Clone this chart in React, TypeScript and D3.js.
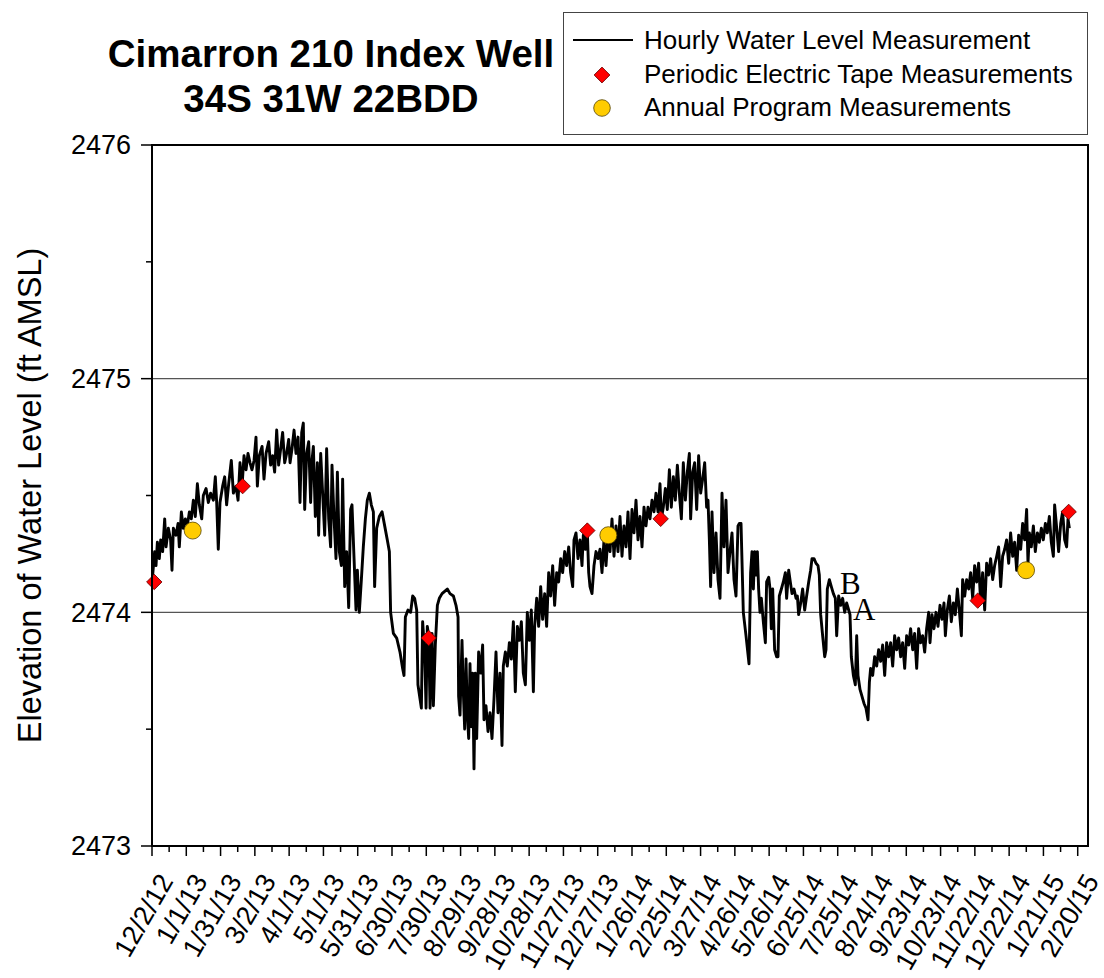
import React from 'react';
import * as d3 from 'd3';

// ---------- data ----------
const START_DATE = '12/2/12';
const END_DATE = '3/1/15';

const xTickLabels = [
  '12/2/12', '1/1/13', '1/31/13', '3/2/13', '4/1/13', '5/1/13', '5/31/13', '6/30/13',
  '7/30/13', '8/29/13', '9/28/13', '10/28/13', '11/27/13', '12/27/13', '1/26/14',
  '2/25/14', '3/27/14', '4/26/14', '5/26/14', '6/25/14', '7/25/14', '8/24/14',
  '9/23/14', '10/23/14', '11/22/14', '12/22/14', '1/21/15', '2/20/15',
];
const yTicks = [2473, 2474, 2475, 2476];
const yMinorTicks = [2473.5, 2474.5, 2475.5];
const gridLevels = [2474, 2475];

// hourly water level: [days since 12/2/12, ft AMSL]
const hourly: [number, number][] = [
  [0.6, 2474.16], [2.3, 2474.26], [3.5, 2474.20], [4.7, 2474.30], [6.4, 2474.23], [7.6, 2474.31],
  [9.3, 2474.26], [11.1, 2474.40], [12.3, 2474.28], [14.3, 2474.36], [16.3, 2474.31], [17.5, 2474.18],
  [18.7, 2474.36], [21.0, 2474.33], [22.8, 2474.38], [23.9, 2474.28], [25.7, 2474.43], [27.4, 2474.36],
  [29.2, 2474.40], [30.9, 2474.37], [32.7, 2474.43], [34.4, 2474.40], [36.2, 2474.48], [37.9, 2474.41],
  [39.7, 2474.55], [41.4, 2474.46], [43.5, 2474.40], [44.9, 2474.50], [47.3, 2474.53], [49.3, 2474.47],
  [51.3, 2474.51], [53.7, 2474.48], [55.4, 2474.58], [56.6, 2474.47], [58.0, 2474.27], [59.5, 2474.47],
  [61.8, 2474.54], [63.6, 2474.58], [65.3, 2474.46], [67.1, 2474.55], [69.4, 2474.65], [71.2, 2474.51],
  [73.5, 2474.54], [75.3, 2474.48], [77.0, 2474.64], [78.8, 2474.54], [80.5, 2474.67], [82.3, 2474.61],
  [84.0, 2474.68], [85.8, 2474.64], [87.5, 2474.61], [89.3, 2474.65], [91.0, 2474.75], [92.2, 2474.54],
  [93.9, 2474.67], [96.3, 2474.71], [98.0, 2474.57], [99.8, 2474.68], [102.1, 2474.73], [103.8, 2474.63],
  [105.6, 2474.67], [107.3, 2474.60], [109.1, 2474.78], [110.8, 2474.63], [112.6, 2474.70], [114.3, 2474.77],
  [116.1, 2474.64], [117.8, 2474.68], [119.6, 2474.74], [120.8, 2474.64], [122.5, 2474.70], [124.3, 2474.78],
  [126.0, 2474.68], [127.8, 2474.75], [129.5, 2474.47], [131.0, 2474.77], [132.4, 2474.81], [133.6, 2474.44],
  [135.3, 2474.68], [137.1, 2474.73], [138.8, 2474.47], [140.0, 2474.65], [141.2, 2474.71], [142.9, 2474.41],
  [144.7, 2474.64], [145.8, 2474.33], [147.6, 2474.68], [149.3, 2474.51], [151.1, 2474.33], [152.8, 2474.70],
  [154.6, 2474.40], [156.3, 2474.28], [157.5, 2474.63], [159.3, 2474.40], [161.0, 2474.23], [162.2, 2474.60],
  [163.9, 2474.26], [165.7, 2474.20], [166.8, 2474.57], [168.6, 2474.11], [170.3, 2474.26], [172.1, 2474.02],
  [173.8, 2474.44], [175.0, 2474.46], [176.8, 2474.23], [178.5, 2474.01], [179.7, 2474.18], [181.4, 2474.00],
  [183.2, 2474.14], [184.9, 2474.28], [186.7, 2474.40], [188.4, 2474.48], [190.2, 2474.51], [191.9, 2474.46],
  [193.7, 2474.43], [194.8, 2474.11], [196.6, 2474.36], [198.9, 2474.41], [201.3, 2474.43], [203.6, 2474.37],
  [205.9, 2474.31], [207.7, 2474.26], [208.8, 2474.00], [211.2, 2473.91], [214.1, 2473.89], [217.0, 2473.83],
  [219.3, 2473.76], [220.5, 2473.73], [221.7, 2473.98], [224.0, 2474.01], [226.3, 2474.00], [228.1, 2474.07],
  [229.8, 2474.06], [231.6, 2474.01], [232.7, 2473.69], [234.5, 2473.63], [235.7, 2473.59], [236.8, 2473.96],
  [238.6, 2473.83], [239.8, 2473.59], [240.9, 2473.94], [242.1, 2473.90], [243.3, 2473.59], [245.0, 2473.91],
  [246.2, 2473.60], [247.9, 2473.86], [249.7, 2474.03], [251.4, 2474.06], [253.8, 2474.08], [256.1, 2474.09],
  [258.4, 2474.10], [260.75, 2474.08], [263.7, 2474.07], [266.0, 2474.03], [267.8, 2473.98], [268.3, 2473.64],
  [269.5, 2473.56], [271.25, 2473.88], [272.4, 2473.66], [273.6, 2473.50], [274.75, 2473.80], [275.9, 2473.57],
  [277.1, 2473.46], [278.25, 2473.78], [279.4, 2473.51], [280.6, 2473.74], [281.75, 2473.33], [282.9, 2473.74],
  [284.1, 2473.46], [285.8, 2473.83], [287.6, 2473.74], [289.3, 2473.86], [290.5, 2473.54], [292.25, 2473.60],
  [294.0, 2473.49], [295.75, 2473.57], [297.5, 2473.46], [299.25, 2473.63], [301.0, 2473.83], [302.75, 2473.57],
  [304.5, 2473.74], [306.25, 2473.43], [307.4, 2473.77], [309.2, 2473.83], [310.9, 2473.77], [312.7, 2473.87],
  [314.4, 2473.80], [316.2, 2473.96], [317.9, 2473.66], [319.7, 2473.94], [321.4, 2473.88], [323.2, 2473.96],
  [324.9, 2473.74], [326.7, 2473.69], [328.4, 2474.00], [330.2, 2473.88], [331.9, 2474.01], [333.7, 2473.66],
  [334.8, 2473.94], [336.6, 2474.06], [338.3, 2473.94], [340.1, 2474.11], [341.8, 2473.97], [343.6, 2474.08],
  [345.3, 2473.94], [347.1, 2474.17], [348.8, 2474.07], [350.6, 2474.20], [352.3, 2474.03], [354.1, 2474.17],
  [355.8, 2474.13], [357.6, 2474.23], [359.3, 2474.17], [361.1, 2474.26], [362.8, 2474.20], [364.6, 2474.28],
  [366.3, 2474.17], [368.1, 2474.11], [369.25, 2474.31], [371.0, 2474.34], [372.75, 2474.23], [374.5, 2474.31],
  [376.25, 2474.20], [377.4, 2474.33], [379.2, 2474.27], [380.9, 2474.35], [382.1, 2474.17], [383.25, 2474.11],
  [385.0, 2474.08], [386.75, 2474.20], [388.5, 2474.26], [390.25, 2474.23], [392.0, 2474.27], [393.75, 2474.17],
  [395.5, 2474.31], [397.25, 2474.20], [399.0, 2474.33], [400.75, 2474.26], [402.5, 2474.40], [404.25, 2474.24],
  [406.0, 2474.37], [407.75, 2474.26], [409.5, 2474.41], [411.25, 2474.24], [413.0, 2474.37], [414.75, 2474.28],
  [416.5, 2474.43], [418.25, 2474.23], [420.0, 2474.44], [421.75, 2474.34], [423.5, 2474.48], [425.25, 2474.31],
  [427.0, 2474.41], [428.75, 2474.28], [430.5, 2474.45], [432.25, 2474.37], [434.0, 2474.45], [435.75, 2474.40],
  [437.5, 2474.48], [439.25, 2474.43], [441.0, 2474.51], [442.75, 2474.43], [444.5, 2474.55], [445.7, 2474.40],
  [447.4, 2474.45], [449.2, 2474.53], [450.9, 2474.44], [452.7, 2474.61], [454.4, 2474.45], [456.2, 2474.58],
  [457.9, 2474.48], [459.7, 2474.63], [461.4, 2474.51], [463.2, 2474.40], [464.9, 2474.64], [466.7, 2474.48],
  [468.4, 2474.60], [470.2, 2474.68], [471.3, 2474.40], [473.1, 2474.60], [474.8, 2474.64], [476.6, 2474.44],
  [478.3, 2474.67], [480.1, 2474.51], [481.8, 2474.57], [483.6, 2474.64], [485.3, 2474.45], [486.5, 2474.48],
  [487.7, 2474.31], [488.8, 2474.11], [490.0, 2474.43], [491.75, 2474.17], [493.5, 2474.34], [495.25, 2474.14],
  [497.0, 2474.06], [498.75, 2474.51], [500.5, 2474.28], [502.25, 2474.48], [504.0, 2474.17], [505.75, 2474.26],
  [507.5, 2474.34], [509.25, 2474.14], [511.0, 2474.07], [512.75, 2474.37], [513.9, 2474.38], [515.4, 2474.38],
  [517.4, 2474.00], [519.75, 2473.90], [522.4, 2473.78], [523.8, 2474.17], [525.0, 2474.26], [526.2, 2474.10],
  [527.3, 2474.26], [528.5, 2474.16], [529.7, 2474.26], [530.8, 2474.10], [532.0, 2474.00], [533.2, 2474.06],
  [534.9, 2473.96], [536.7, 2473.87], [537.8, 2474.13], [539.6, 2474.15], [540.75, 2474.10], [541.9, 2473.93],
  [543.1, 2474.10], [544.8, 2473.84], [546.6, 2473.81], [547.75, 2473.81], [548.9, 2474.07], [550.7, 2474.10],
  [552.4, 2474.13], [554.2, 2474.17], [555.3, 2474.06], [557.1, 2474.18], [558.25, 2474.14], [560.0, 2474.08],
  [561.75, 2474.10], [563.5, 2474.06], [564.7, 2474.07], [565.8, 2473.99], [567.6, 2474.04], [569.3, 2474.10],
  [571.1, 2474.01], [572.8, 2474.07], [574.6, 2474.13], [576.3, 2474.18], [577.5, 2474.23], [579.25, 2474.23],
  [581.0, 2474.21], [582.75, 2474.20], [583.9, 2474.16], [585.1, 2473.99], [586.8, 2473.90], [588.6, 2473.81],
  [589.75, 2473.84], [590.9, 2474.10], [592.7, 2474.14], [594.4, 2474.11], [596.2, 2474.08], [597.9, 2474.06],
  [599.1, 2473.90], [600.8, 2474.07], [602.6, 2474.03], [604.3, 2474.06], [606.1, 2474.00], [607.8, 2474.04],
  [609.6, 2474.01], [610.75, 2473.99], [611.9, 2473.81], [613.7, 2473.73], [615.4, 2473.69], [616.6, 2473.90],
  [617.75, 2473.73], [619.5, 2473.67], [621.25, 2473.64], [623.0, 2473.61], [624.75, 2473.59], [626.5, 2473.54],
  [627.7, 2473.70], [628.8, 2473.76], [630.6, 2473.73], [632.3, 2473.81], [634.1, 2473.77], [635.8, 2473.84],
  [637.6, 2473.79], [639.3, 2473.86], [641.1, 2473.73], [642.8, 2473.87], [644.6, 2473.81], [646.3, 2473.87],
  [648.1, 2473.77], [649.8, 2473.90], [651.6, 2473.84], [653.3, 2473.89], [655.1, 2473.81], [656.8, 2473.87],
  [658.6, 2473.76], [660.3, 2473.90], [662.1, 2473.86], [663.8, 2473.93], [665.6, 2473.84], [667.3, 2473.91],
  [669.1, 2473.76], [670.8, 2473.93], [672.6, 2473.87], [674.3, 2473.90], [676.1, 2473.83], [677.8, 2473.93],
  [679.6, 2474.00], [680.75, 2473.87], [682.5, 2473.99], [684.25, 2473.93], [686.0, 2474.00], [687.75, 2473.94],
  [689.5, 2474.03], [691.25, 2473.97], [693.0, 2474.04], [694.2, 2473.90], [695.9, 2474.01], [697.7, 2474.07],
  [699.4, 2473.96], [701.2, 2474.04], [702.9, 2473.99], [704.7, 2474.10], [706.4, 2474.01], [708.2, 2473.90],
  [709.3, 2474.14], [711.1, 2474.07], [712.8, 2474.14], [714.6, 2474.10], [716.3, 2474.17], [718.1, 2474.06],
  [719.8, 2474.20], [721.6, 2474.13], [723.3, 2474.21], [725.1, 2474.04], [726.8, 2474.17], [728.6, 2474.01],
  [730.3, 2474.21], [732.1, 2474.16], [733.8, 2474.23], [735.6, 2474.14], [737.3, 2474.20], [739.1, 2474.24],
  [740.8, 2474.28], [742.6, 2474.11], [744.3, 2474.24], [746.1, 2474.27], [747.8, 2474.31], [749.6, 2474.21],
  [751.3, 2474.34], [753.1, 2474.24], [754.8, 2474.30], [756.6, 2474.18], [758.3, 2474.33], [760.1, 2474.27],
  [761.8, 2474.38], [763.6, 2474.31], [765.3, 2474.44], [766.5, 2474.21], [767.7, 2474.34], [769.4, 2474.28],
  [771.2, 2474.37], [772.9, 2474.26], [774.7, 2474.34], [776.4, 2474.30], [778.2, 2474.36], [779.9, 2474.31],
  [781.7, 2474.38], [783.4, 2474.34], [785.2, 2474.41], [786.9, 2474.30], [788.7, 2474.24], [789.8, 2474.46],
  [791.6, 2474.36], [793.3, 2474.26], [795.1, 2474.38], [796.8, 2474.43], [798.6, 2474.31], [800.3, 2474.28],
  [801.5, 2474.40], [802.7, 2474.36],
];

// periodic electric tape measurements: [days since 12/2/12, ft AMSL]
const tapeMeasurements: [number, number][] = [
  [2, 2474.13], [79.3, 2474.54], [242.1, 2473.89], [380.9, 2474.35],
  [445.1, 2474.40], [722.5, 2474.05], [802.1, 2474.43],
];

// annual program measurements
const annualMeasurements: [number, number][] = [
  [35.6, 2474.35], [399.3, 2474.33], [764.8, 2474.18],
];

// text annotations: [label, days, ft AMSL]
const annotations: [string, number, number][] = [
  ['B', 602, 2474.08],
  ['A', 613.4, 2473.968],
];

const titleLines = ['Cimarron 210 Index Well', '34S 31W 22BDD'];
const legendItems = [
  'Hourly Water Level Measurement',
  'Periodic Electric Tape Measurements',
  'Annual Program Measurements',
];
const yAxisTitle = 'Elevation of Water Level (ft AMSL)';

// ---------- chart ----------
const W = 1104;
const H = 978;
const SANS = '"Liberation Sans", Arial, Helvetica, sans-serif';
const SERIF = '"Liberation Serif", "Times New Roman", serif';

export default function App() {
  const parse = d3.utcParse('%m/%d/%y');
  const start = parse(START_DATE) as Date;
  const end = parse(END_DATE) as Date;
  const toDate = (d: number) => new Date(start.getTime() + d * 864e5);

  const left = 152, right = 1088, top = 145, bottom = 846;
  const x = d3.scaleUtc().domain([start, end]).range([left, right]);
  const y = d3.scaleLinear().domain([2473, 2476]).range([bottom, top]);

  const majorDates = xTickLabels.map((s) => parse(s) as Date);
  const minorDates = majorDates
    .map((d) => d3.utcDay.offset(d, 15))
    .filter((d) => d < end);

  const line = d3
    .line<[number, number]>()
    .x((d) => x(toDate(d[0])))
    .y((d) => y(d[1]));

  const diamond = d3.symbol().type(d3.symbolSquare).size(118)() as string;
  const legendDiamond = d3.symbol().type(d3.symbolSquare).size(125)() as string;

  return (
    <div style={{ position: 'absolute', left: 0, top: 0 }}>
      <svg width={W} height={H} style={{ display: 'block', background: '#fff' }}>
        {/* Title */}
        {titleLines.map((t, i) => (
          <text
            key={t}
            x={331}
            y={67 + i * 45}
            textAnchor="middle"
            fontFamily={SANS}
            fontWeight="bold"
            fontSize={38.5}
            fill="#000"
          >
            {t}
          </text>
        ))}

        {/* Legend */}
        <rect x={563.5} y={12.5} width={524} height={122} fill="#fff" stroke="#444" strokeWidth={1} />
        <line x1={573} x2={633} y1={40} y2={40} stroke="#000" strokeWidth={2} />
        <path d={legendDiamond} transform="translate(602,75) rotate(45)" fill="#ff0000" stroke="#600" strokeWidth={0.8} />
        <circle cx={602} cy={108} r={8.3} fill="#ffcc00" stroke="#554400" strokeWidth={0.8} />
        {legendItems.map((t, i) => (
          <text key={t} x={644} y={49 + i * 33.5} fontFamily={SANS} fontSize={26} fill="#000">
            {t}
          </text>
        ))}

        {/* Grid lines */}
        {gridLevels.map((v) => (
          <line key={v} x1={left} x2={right} y1={y(v)} y2={y(v)} stroke="#555" strokeWidth={1.2} />
        ))}

        {/* Hourly line */}
        <path d={line(hourly) as string} fill="none" stroke="#000" strokeWidth={2.9} strokeLinejoin="round" />

        {/* Annotations */}
        {annotations.map(([t, d, v]) => (
          <text key={t} x={x(toDate(d))} y={y(v)} fontFamily={SERIF} fontSize={31} fill="#000">
            {t}
          </text>
        ))}

        {/* Markers */}
        {tapeMeasurements.map(([d, v], i) => (
          <path
            key={'t' + i}
            d={diamond}
            transform={`translate(${x(toDate(d))},${y(v)}) rotate(45)`}
            fill="#ff0000"
            stroke="#600"
            strokeWidth={0.8}
          />
        ))}
        {annualMeasurements.map(([d, v], i) => (
          <circle
            key={'a' + i}
            cx={x(toDate(d))}
            cy={y(v)}
            r={8.5}
            fill="#ffcc00"
            stroke="#554400"
            strokeWidth={0.8}
          />
        ))}

        {/* Frame */}
        <rect x={left} y={top} width={right - left} height={bottom - top} fill="none" stroke="#000" strokeWidth={2} />

        {/* Y axis ticks */}
        {yTicks.map((v) => (
          <g key={v}>
            <line x1={left - 11} x2={left} y1={y(v)} y2={y(v)} stroke="#000" strokeWidth={1.5} />
            <text
              x={left - 21}
              y={y(v)}
              dy="0.35em"
              textAnchor="end"
              fontFamily={SANS}
              fontSize={27}
              fill="#000"
            >
              {v}
            </text>
          </g>
        ))}
        {yMinorTicks.map((v) => (
          <line key={v} x1={left - 6} x2={left} y1={y(v)} y2={y(v)} stroke="#000" strokeWidth={1.5} />
        ))}

        {/* X axis ticks */}
        {majorDates.map((d, i) => (
          <g key={xTickLabels[i]}>
            <line x1={x(d)} x2={x(d)} y1={bottom} y2={bottom + 10} stroke="#000" strokeWidth={1.5} />
            <text
              transform={`translate(${x(d) + 22},${bottom + 35}) rotate(-60)`}
              textAnchor="end"
              fontFamily={SANS}
              fontSize={27}
              fill="#000"
            >
              {xTickLabels[i]}
            </text>
          </g>
        ))}
        {minorDates.map((d, i) => (
          <line key={'m' + i} x1={x(d)} x2={x(d)} y1={bottom} y2={bottom + 6} stroke="#000" strokeWidth={1.5} />
        ))}

        {/* Y axis title */}
        <text
          transform={`translate(41,${(top + bottom) / 2}) rotate(-90)`}
          textAnchor="middle"
          fontFamily={SANS}
          fontSize={32.5}
          fill="#000"
        >
          {yAxisTitle}
        </text>
      </svg>
    </div>
  );
}
